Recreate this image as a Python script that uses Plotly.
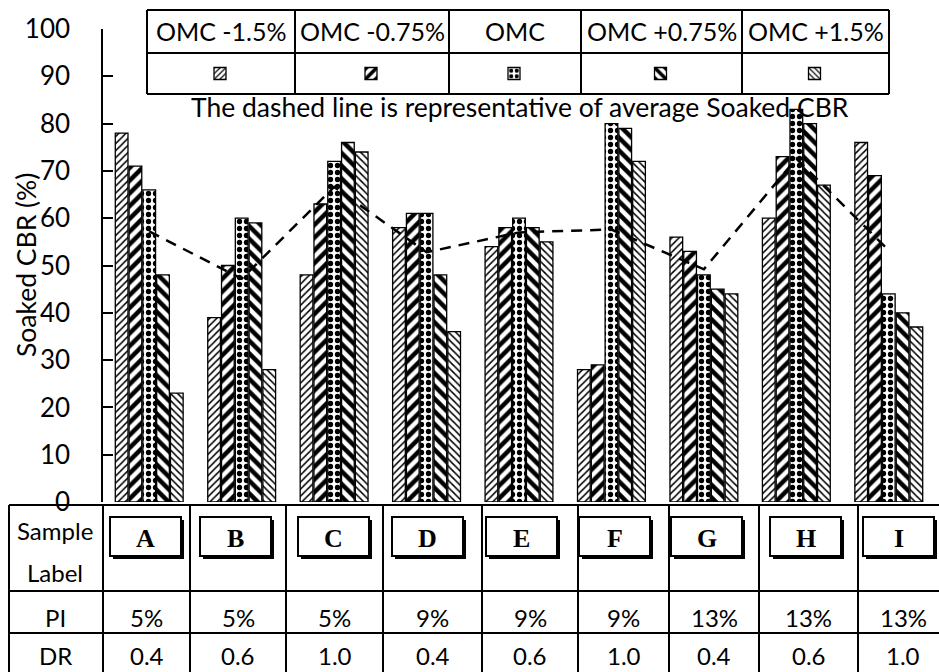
import plotly.graph_objects as go

# ---------------- data ----------------
samples = ["A", "B", "C", "D", "E", "F", "G", "H", "I"]
series_names = ["OMC -1.5%", "OMC -0.75%", "OMC", "OMC +0.75%", "OMC +1.5%"]
omc_m150 = [78, 39, 48, 58, 54, 28, 56, 60, 76]
omc_m075 = [71, 50, 63, 61, 58, 29, 53, 73, 69]
omc_000 = [66, 60, 72, 61, 60, 80, 48, 83, 44]
omc_p075 = [48, 59, 76, 48, 58, 79, 45, 80, 40]
omc_p150 = [23, 28, 74, 36, 55, 72, 44, 67, 37]
avg_cbr = [57.2, 47.2, 66.6, 52.8, 57.0, 57.6, 49.2, 72.6, 53.2]
pi_values = ["5%", "5%", "5%", "9%", "9%", "9%", "13%", "13%", "13%"]
dr_values = ["0.4", "0.6", "1.0", "0.4", "0.6", "1.0", "0.4", "0.6", "1.0"]
y_ticks = [0, 10, 20, 30, 40, 50, 60, 70, 80, 90, 100]

series_values = [omc_m150, omc_m075, omc_000, omc_p075, omc_p150]

# ---------------- layout geometry (pixels) ----------------
W, H = 939, 672
L, R, T, B = 103, 4, 29, 170
PW, PH = W - L - R, H - T - B
FONT = "Lato"


def px(x):
    return (x - L) / PW


def py(y):
    return (H - B - y) / PH


patterns = [
    dict(shape="/", size=5, solidity=0.3),
    dict(shape="/", size=9, solidity=0.5),
    dict(shape=".", size=7, solidity=0.45),
    dict(shape="\\", size=9, solidity=0.5),
    dict(shape="\\", size=5, solidity=0.3),
]

legend_centers = [221, 372, 515, 661.5, 815.5]
legend_ids = ["legend", "legend2", "legend3", "legend4", "legend5"]

fig = go.Figure()
for i, (name, vals) in enumerate(zip(series_names, series_values)):
    fig.add_trace(go.Bar(
        x=samples, y=vals, name=name,
        marker=dict(color="white",
                    line=dict(color="black", width=1.3),
                    pattern=dict(fgcolor="black", bgcolor="white",
                                 fillmode="replace", **patterns[i])),
        legend=legend_ids[i], showlegend=True,
    ))

fig.add_trace(go.Scatter(
    x=samples, y=avg_cbr, mode="lines", name="Average",
    line=dict(color="black", width=2.5, dash="11px,8px"),
    showlegend=False,
))

legend_cfg = {}
for i, lid in enumerate(legend_ids):
    legend_cfg[lid] = dict(
        x=px(legend_centers[i] - 21), xanchor="left",
        y=py(73.5), yanchor="middle",
        bgcolor="rgba(0,0,0,0)", borderwidth=0,
        font=dict(size=1, color="rgba(0,0,0,0)"),
        orientation="h", itemwidth=30,
    )

shapes = []
ann = []


def line(x0, y0, x1, y1, w=2):
    shapes.append(dict(type="line", xref="paper", yref="paper",
                       x0=px(x0), y0=py(y0), x1=px(x1), y1=py(y1),
                       line=dict(color="black", width=w), layer="above"))


def text(x, y, s, size=24, family=FONT, bold=False):
    if bold:
        s = "<b>" + s + "</b>"
    ann.append(dict(x=px(x), y=py(y), xref="paper", yref="paper", text=s,
                    showarrow=False, xanchor="center", yanchor="middle",
                    font=dict(family=family, size=size, color="black")))


# legend table at top
lt_x = [147, 295, 449, 581, 742, 889]
line(147, 10, 889, 10)
line(147, 53, 889, 53)
line(147, 94, 889, 94)
for xv in lt_x:
    line(xv, 10, xv, 94)
for i, name in enumerate(series_names):
    text(legend_centers[i], 31, name, size=25)

text(520, 107, "The dashed line is representative of average Soaked CBR", size=26.5)

# y axis title
ann.append(dict(x=px(26), y=py(265), xref="paper", yref="paper",
                text="Soaked CBR (%)", textangle=-90, showarrow=False,
                xanchor="center", yanchor="middle",
                font=dict(family=FONT, size=26.5, color="black")))

# bottom table
col_x = [103, 190, 286, 383, 482, 578, 669, 759, 858]
col_right = 948
line(9, 505, 939, 505)
line(9, 591, 939, 591)
line(9, 633, 939, 633)
line(9, 505, 9, 672)
for xv in col_x:
    line(xv, 505, xv, 672)

text(55, 530, "Sample", size=24)
text(55, 572, "Label", size=24)
text(55, 617, "PI", size=24)
text(55, 655, "DR", size=24)

box_left = [110, 200, 298, 392, 486, 579, 671, 770, 863]
box_w, box_top, box_bot = 71, 517, 556
col_edges = col_x + [col_right]
for i, s in enumerate(samples):
    cx = (col_edges[i] + col_edges[i + 1]) / 2
    bl = box_left[i]
    shapes.append(dict(type="rect", xref="paper", yref="paper",
                       x0=px(bl + 3), y0=py(box_bot + 3), x1=px(bl + box_w + 3), y1=py(box_top + 3),
                       fillcolor="black", line=dict(color="black", width=0), layer="above"))
    shapes.append(dict(type="rect", xref="paper", yref="paper",
                       x0=px(bl), y0=py(box_bot), x1=px(bl + box_w), y1=py(box_top),
                       fillcolor="white", line=dict(color="black", width=2), layer="above"))
    text(bl + box_w / 2, 538, s, size=26, family="Liberation Serif", bold=True)
    text(cx, 617, pi_values[i], size=24)
    text(cx, 655, dr_values[i], size=24)

fig.update_layout(
    width=W, height=H,
    margin=dict(l=L, r=R, t=T, b=B, pad=0),
    paper_bgcolor="white", plot_bgcolor="white",
    barmode="group", bargap=0.254, bargroupgap=0.08,
    font=dict(family=FONT, color="black"),
    xaxis=dict(range=[-0.5, 8.5], showticklabels=False, ticks="",
               showline=False, showgrid=False, zeroline=False),
    yaxis=dict(range=[0, 100], tickvals=y_ticks, ticks="inside", ticklen=10,
               tickwidth=1.5, tickcolor="black", showline=True, linecolor="black",
               linewidth=1.5, showgrid=False, zeroline=False,
               tickfont=dict(family=FONT, size=26, color="black"),
               ticklabelstandoff=26),
    shapes=shapes, annotations=ann,
    **legend_cfg,
)

fig.write_html("out.html",
               config={"displayModeBar": False},
               post_script="document.body.style.margin='0px';document.body.style.overflow='hidden';")
